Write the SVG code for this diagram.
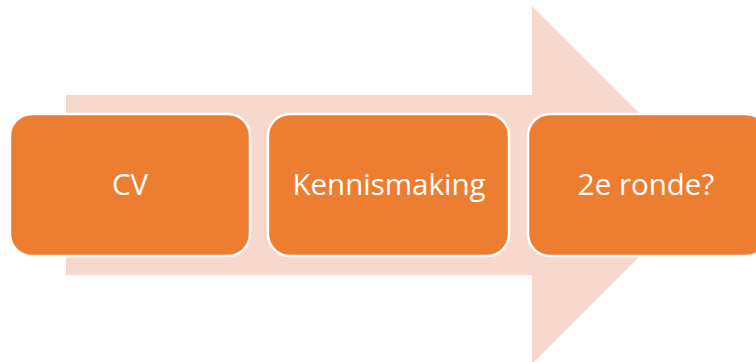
<svg xmlns="http://www.w3.org/2000/svg" width="756" height="362" viewBox="0 0 756 362">
<style>
.box{fill:#ED7D31;stroke:#FFFFFF;stroke-width:2.5}
.lbl{font-family:"Open Sans","Liberation Sans",sans-serif;font-size:29.5px;fill:#FFFFFF;text-anchor:middle}
</style>
<rect width="756" height="362" fill="#FFFFFF"/>
<g id="arrow">
<polygon points="66,95 532,95 532,6 711,185 532,364 532,275 66,275" fill="#F8D8CD"/>
</g>
<g id="connectors"></g>
<g id="node-cv">
<rect class="box" x="10" y="114" width="240" height="142" rx="22"/>
<text class="lbl" x="130" y="195">CV</text>
</g>
<g id="node-kennismaking">
<rect class="box" x="268" y="114" width="241" height="142" rx="22"/>
<text class="lbl" x="389" y="195">Kennismaking</text>
</g>
<g id="node-ronde">
<rect class="box" x="528" y="114" width="240" height="142" rx="22"/>
<text class="lbl" x="646" y="195">2e ronde?</text>
</g>
</svg>
